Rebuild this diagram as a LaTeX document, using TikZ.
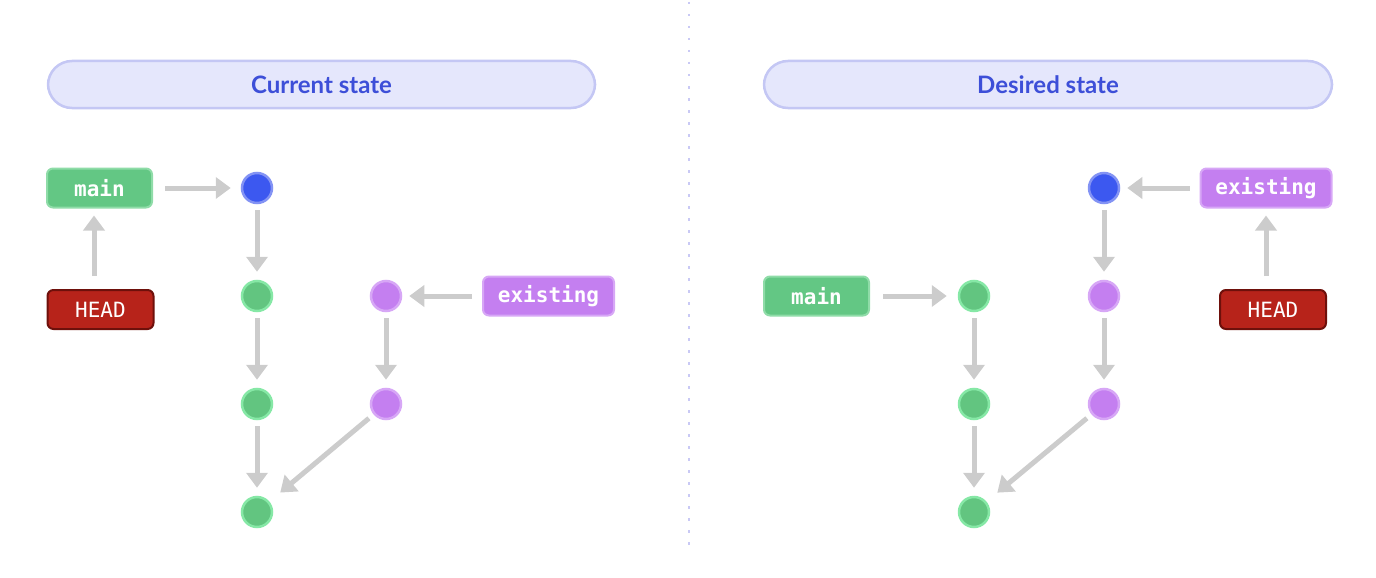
\documentclass[tikz,border=0pt]{standalone}
\usepackage{fontspec}
\setmainfont{Lato}
\newfontfamily\monofont{DejaVu Sans Mono}
\usetikzlibrary{arrows.meta}
\definecolor{pillfill}{HTML}{E5E7FC}
\definecolor{pillborder}{HTML}{C4C7F4}
\definecolor{titleblue}{HTML}{3D4FD8}
\definecolor{gfill}{HTML}{62C580}
\definecolor{gborder}{HTML}{86E8A6}
\definecolor{glab}{HTML}{63C784}
\definecolor{glabborder}{HTML}{8FDCA8}
\definecolor{pfill}{HTML}{C47FF0}
\definecolor{pborder}{HTML}{D7A7F6}
\definecolor{bfill}{HTML}{3C58F0}
\definecolor{bborder}{HTML}{8393F4}
\definecolor{hfill}{HTML}{B7231A}
\definecolor{hborder}{HTML}{6E100B}
\definecolor{arrowgray}{HTML}{CCCCCC}
\definecolor{dotcol}{HTML}{C9C9F5}
\tikzset{
  pill/.style={draw=pillborder, line width=2.5pt, fill=pillfill, rounded corners=24pt,
    minimum height=47pt, text=titleblue, font=\bfseries\fontsize{24}{28}\selectfont},
  lbl/.style={rounded corners=6pt, line width=2pt, minimum height=39pt, inner sep=0pt,
    text=white, font=\monofont\bfseries\fontsize{21}{25}\selectfont},
  mainlbl/.style={lbl, fill=glab, draw=glabborder, minimum width=105pt},
  existlbl/.style={lbl, fill=pfill, draw=pborder, minimum width=131pt},
  headlbl/.style={lbl, fill=hfill, draw=hborder, minimum width=106pt, font=\monofont\fontsize{21}{25}\selectfont},
  commit/.style={circle, minimum size=30pt, inner sep=0pt, line width=2.5pt},
  gc/.style={commit, fill=gfill, draw=gborder},
  pc/.style={commit, fill=pfill, draw=pborder},
  bc/.style={commit, fill=bfill, draw=bborder},
  edge/.style={draw=arrowgray, line width=5pt, -{Triangle[length=15pt,width=21pt]}},
  vedge/.style={edge, shorten <=6pt, shorten >=8pt},
}
\begin{document}
\begin{tikzpicture}[x=1pt,y=-1pt]
\useasboundingbox (0,0) rectangle (1376,578);
% divider
\draw[dotcol, line width=2.5pt, dash pattern=on 2.5pt off 9.5pt] (689,2) -- (689,545);
% titles
\node[pill, minimum width=547pt] (tl) at (321.5,84.5) {Current state};
\node[pill, minimum width=568pt] (tr) at (1048,84.5) {Desired state};

% ---------- left: current state
\node[mainlbl] (lmain) at (99.5,188) {main};
\node[headlbl] (lhead) at (100.5,309.5) {HEAD};
\node[bc] (lb) at (257,188) {};
\node[gc] (lg1) at (257,296) {};
\node[gc] (lg2) at (257,404) {};
\node[gc] (lg3) at (257,512) {};
\node[pc] (lp1) at (386,296) {};
\node[pc] (lp2) at (386,404) {};
\node[existlbl] (lex) at (548.5,296) {existing};

\draw[edge, shorten <=13pt, shorten >=7pt] ([xshift=-6.5pt]lhead.north) -- ([xshift=-5.5pt]lmain.south);
\draw[edge, shorten <=12pt, shorten >=10pt] (lmain) -- (lb);
\draw[edge, shorten <=10pt, shorten >=7pt] (lex) -- (lp1);
\draw[vedge] (lb) -- (lg1);
\draw[vedge] (lg1) -- (lg2);
\draw[vedge] (lg2) -- (lg3);
\draw[vedge] (lp1) -- (lp2);
\draw[edge, shorten <=6pt, shorten >=14pt] (lp2) -- (lg3);

% ---------- right: desired state
\node[mainlbl] (rmain) at (816.5,296) {main};
\node[gc] (rg1) at (974,296) {};
\node[gc] (rg2) at (974,404) {};
\node[gc] (rg3) at (974,512) {};
\node[bc] (rb) at (1104,188) {};
\node[pc] (rp1) at (1104,296) {};
\node[pc] (rp2) at (1104,404) {};
\node[existlbl] (rex) at (1266,188) {existing};
\node[headlbl] (rhead) at (1273,309.5) {HEAD};

\draw[edge, shorten <=13pt, shorten >=11pt] (rmain) -- (rg1);
\draw[edge, shorten <=10pt, shorten >=7pt] (rex) -- (rb);
\draw[edge, shorten <=13pt, shorten >=7pt] ([xshift=-7pt]rhead.north) -- ([xshift=0pt]rex.south);
\draw[vedge] (rg1) -- (rg2);
\draw[vedge] (rg2) -- (rg3);
\draw[vedge] (rb) -- (rp1);
\draw[vedge] (rp1) -- (rp2);
\draw[edge, shorten <=6pt, shorten >=14pt] (rp2) -- (rg3);
\end{tikzpicture}
\end{document}
